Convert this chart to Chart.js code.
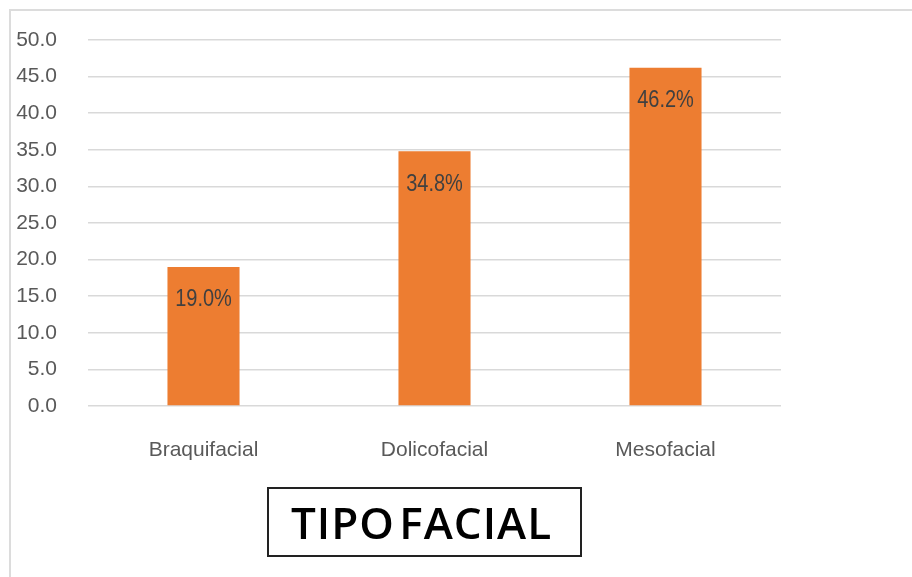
<!DOCTYPE html>
<html>
<head>
    <title>Tipo facial</title>
    <script src="https://cdn.jsdelivr.net/npm/chart.js"></script>
    <style>
        body { margin: 0; background: #fff; }
        #wrap { position: relative; width: 912px; height: 577px; overflow: hidden; }
        #frame {
            position: absolute; left: 9px; top: 9px; width: 920px; height: 600px;
            border-top: 2px solid #dcdcdc; border-left: 2px solid #dcdcdc;
        }
        #chart { position: absolute; left: 0; top: 0; }
        #caption {
            position: absolute; left: 267px; top: 487px; width: 311px; height: 66px;
            border: 2px solid #222; box-sizing: content-box;
            font-family: "Open Sans", sans-serif; font-weight: 600; font-size: 44px;
            line-height: 66px; text-align: center; color: #000;
            letter-spacing: 1px; word-spacing: -8px; text-indent: -6px;
        }
    </style>
</head>
<body>
<div id="wrap">
    <div id="frame"></div>
    <canvas id="chart" width="912" height="577"></canvas>
    <div id="caption">TIPO FACIAL</div>
</div>
<script>
// categories and percentages
const categories = ['Braquifacial', 'Dolicofacial', 'Mesofacial'];
const percentages = [19.0, 34.8, 46.2];
const yTicks = [0, 5, 10, 15, 20, 25, 30, 35, 40, 45, 50];

const axisFont = '"Liberation Sans", sans-serif';

// writes the percentage inside each bar, just under its top
const barLabels = {
    id: 'barLabels',
    afterDatasetsDraw(chart) {
        const ctx = chart.ctx;
        const meta = chart.getDatasetMeta(0);
        ctx.font = '20px ' + axisFont;
        ctx.fillStyle = '#404040';
        ctx.textAlign = 'center';
        ctx.textBaseline = 'middle';
        meta.data.forEach((bar, i) => {
            ctx.save();
            // slightly tall lettering
            ctx.translate(bar.x, bar.y + 33);
            ctx.scale(1, 1.15);
            ctx.fillText(percentages[i].toFixed(1) + '%', 0, 0);
            ctx.restore();
        });
    }
};

new Chart(document.getElementById('chart').getContext('2d'), {
    type: 'bar',
    data: {
        labels: categories,
        datasets: [{
            data: percentages,
            backgroundColor: '#ED7D31',
            barPercentage: 0.312,
            categoryPercentage: 1
        }]
    },
    options: {
        responsive: false,
        animation: false,
        layout: { padding: { left: 0, right: 131, top: 40, bottom: 111 } },
        plugins: { legend: { display: false }, tooltip: { enabled: false } },
        scales: {
            x: {
                grid: { display: false },
                border: { display: false },
                ticks: {
                    color: '#595959',
                    font: { family: axisFont, size: 21 },
                    padding: 24
                },
                afterFit(scale) { scale.height = 60; }
            },
            y: {
                min: 0,
                max: 50,
                afterBuildTicks(scale) { scale.ticks = yTicks.map(v => ({ value: v })); },
                grid: { color: '#d9d9d9', lineWidth: 1.5, drawTicks: false },
                border: { display: false },
                ticks: {
                    color: '#595959',
                    font: { family: axisFont, size: 21 },
                    padding: 31,
                    callback: v => v.toFixed(1)
                },
                afterFit(scale) {
                    scale.width = 88;
                    // the wide label gap should not push the plot down
                    scale.paddingTop = 0;
                    scale.paddingBottom = 0;
                }
            }
        }
    },
    plugins: [barLabels]
});
</script>
</body>
</html>
